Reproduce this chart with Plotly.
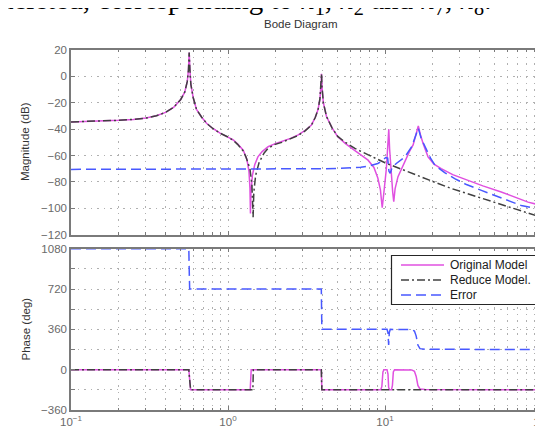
import plotly.graph_objects as go

# ---------------- data ----------------
# Magnitude, original model
orig_mag_freq = [0.1, 0.15, 0.2, 0.25, 0.3, 0.35, 0.4, 0.45, 0.5, 0.53, 0.55, 0.56, 0.566,
                 0.572, 0.58, 0.6, 0.63, 0.68, 0.73, 0.8, 0.89, 1.0, 1.08, 1.15, 1.25, 1.32,
                 1.36, 1.38, 1.39, 1.40, 1.43, 1.48, 1.55, 1.65, 1.8, 2.0, 2.2, 2.5, 2.8, 3.1,
                 3.4, 3.6, 3.75, 3.85, 3.92, 3.94, 3.97, 4.05, 4.24, 4.6, 5.0, 5.6, 6.4, 7.2,
                 7.8, 8.5, 9.0, 9.35, 9.6, 9.9, 10.2, 10.45, 10.57, 10.7, 10.95, 11.2, 11.37,
                 11.6, 12.1, 13.4, 14.3, 15.1, 15.85, 16.3, 16.8, 17.5, 18.8, 20.5, 22.8, 27,
                 33.8, 42, 55, 70, 81.5, 100]
orig_mag_db = [-34.5, -34.0, -33.3, -32.6, -31.6, -29.8, -27.3, -23.5, -17.5, -12, -4, 5, 18,
               5, -6, -16, -25, -31, -35.5, -39.5, -43, -46, -48.2, -51, -56, -63,
               -72, -85, -104, -88, -75, -67, -61, -57, -53.3, -51, -49.5, -47, -44.4, -41,
               -36.8, -31, -25, -17, -5, 2, -8, -20, -30.4, -39, -45.7, -51, -56, -60.5,
               -63.5, -69, -77, -86, -99.6, -85, -70, -50, -40, -55, -76, -88, -95,
               -85, -76, -63.5, -57, -52, -43.1, -37.6, -44, -51, -61, -66.5, -69.9, -74.5,
               -78.8, -83, -87.6, -92.5, -95.3, -98]

# Magnitude, reduced model
red_mag_freq = [0.1, 0.15, 0.2, 0.25, 0.3, 0.35, 0.4, 0.45, 0.5, 0.53, 0.55, 0.56, 0.566,
                0.572, 0.58, 0.6, 0.63, 0.68, 0.73, 0.8, 0.89, 1.0, 1.08, 1.15, 1.25, 1.3,
                1.38, 1.42, 1.445, 1.46, 1.5, 1.58, 1.7, 1.8, 2.0, 2.2, 2.5, 2.8, 3.1, 3.4,
                3.6, 3.75, 3.85, 3.92, 3.94, 3.97, 4.05, 4.24, 4.6, 5.0, 5.6, 6.43, 7.8, 9.0,
                10.0, 11.5, 14.0, 20, 26.5, 40, 55, 73.8, 100]
red_mag_db = [-34.5, -34.0, -33.3, -32.6, -31.6, -29.8, -27.3, -23.5, -17.5, -12, -4, 5, 18,
              5, -6, -16, -25, -31, -35.5, -39.5, -43, -46, -48.5, -51.5, -56.5, -61,
              -70, -82, -106.7, -88, -75, -65, -58, -54.5, -51.5, -50, -47.5, -44.8, -41.3, -37,
              -31, -25, -17, -5, 2, -8, -20, -30.4, -39, -45.5, -50, -54.6, -59.5, -62.5,
              -65.5, -68.3, -72.5, -79.5, -85, -92, -97, -102, -107]

# Magnitude, error
err_mag_freq = [0.1, 1, 2, 3, 4, 5, 6, 7, 8, 9, 9.6, 10.1, 10.4, 10.6, 10.8, 11.1, 11.8,
                13.4, 14.8, 15.8, 16.3, 17, 18, 19.5, 20.8, 24, 27.8, 33, 41.1, 55, 73.8, 100]
err_mag_db = [-70.5, -70.5, -70.3, -70.2, -70, -69.8, -69.5, -68.8, -67.8, -66, -64, -61.5,
              -62, -72, -73.5, -69, -66, -61, -53.3, -44, -39.3, -47, -53.3, -62, -67.3,
              -73, -77.5, -82, -86.4, -92, -97.9, -101]

# Phase, original model
orig_ph_freq = [0.1, 0.563, 0.57, 0.578, 1.385, 1.395, 1.405, 3.93, 3.945, 3.96, 9.4, 9.55,
                9.7, 9.85, 10.3, 10.45, 10.55, 10.7, 11.0, 11.15, 11.3, 11.5, 14.8, 15.4,
                15.8, 16.2, 16.7, 18, 100]
orig_ph_deg = [0, 0, -90, -180, -180, -90, 0, 0, -90, -180, -180, -150,
               -20, 0, 0, -40, -160, -180, -180, -140, -20, 0, -2, -15,
               -60, -140, -172, -178, -180]

# Phase, reduced model
red_ph_freq = [0.1, 0.563, 0.57, 0.578, 1.44, 1.445, 1.45, 3.93, 3.945, 3.96, 100]
red_ph_deg = [0, 0, -90, -180, -180, -90, 0, 0, -90, -180, -180]

# Phase, error
err_ph_freq = [0.1, 0.563, 0.566, 0.57, 3.93, 3.945, 3.96, 10.3, 10.45, 10.55, 10.65, 10.8,
               14.8, 15.4, 15.8, 16.2, 16.7, 18, 100]
err_ph_deg = [1080, 1080, 900, 720, 720, 540, 360, 360, 330, 220, 330, 360,
              358, 345, 300, 220, 188, 182, 180]

series_names = ["Original Model", "Reduce Model.", "Error"]
mag_ticks = [-120, -100, -80, -60, -40, -20, 0, 20]
phase_grid = [-360, -180, 0, 180, 360, 540, 720, 900, 1080]
phase_labels = ["\u2212360", "", "0", "", "360", "", "720", "", "1080"]
freq_ticks = [0.1, 1, 10, 100]
freq_labels = ["10<sup>\u22121</sup>", "10<sup>0</sup>", "10<sup>1</sup>", "10<sup>2</sup>"]
freq_minor = [0.2, 0.3, 0.4, 0.5, 0.6, 0.7, 0.8, 0.9,
              2, 3, 4, 5, 6, 7, 8, 9,
              20, 30, 40, 50, 60, 70, 80, 90]

# ---------------- styling ----------------
C_ORIG = "#e050e0"
C_RED = "#404040"
C_ERR = "#4858ff"
FRAME = "#7a7a7a"
GRID = "#b0b0b0"
FONT = "Liberation Sans, Arial"
TICKFONT = dict(family=FONT, size=11.5, color="#6a6a6a")

# plot area in pixels (for layout placement only)
L, R, T, B, W, H = 63, 9, 42, 39, 543, 441
PW, PH = W - L - R, H - T - B


def px(xp):
    return (xp - L) / PW


def py(yp):
    return (H - B - yp) / PH


fig = go.Figure()
styles = [
    dict(color=C_ORIG, width=1.5, dash="solid"),
    dict(color=C_RED, width=1.5, dash="8px,3px,2px,3px"),
    dict(color=C_ERR, width=1.5, dash="10px,5px"),
]
mags = [(orig_mag_freq, orig_mag_db), (red_mag_freq, red_mag_db), (err_mag_freq, err_mag_db)]
phs = [(orig_ph_freq, orig_ph_deg), (red_ph_freq, red_ph_deg), (err_ph_freq, err_ph_deg)]
for i in range(3):
    fig.add_trace(go.Scatter(x=mags[i][0], y=mags[i][1], mode="lines", line=styles[i],
                             name=series_names[i], showlegend=False,
                             xaxis="x", yaxis="y"))
for i in range(3):
    fig.add_trace(go.Scatter(x=phs[i][0], y=phs[i][1], mode="lines", line=styles[i],
                             name=series_names[i], showlegend=False,
                             xaxis="x2", yaxis="y2"))

grid_dash = "1.5px,5px"
x_range = [-1, 2]
common_x = dict(type="log", range=x_range, showline=True, linecolor=FRAME, linewidth=1.5,
                mirror="allticks", ticks="inside", ticklen=4, tickcolor=FRAME,
                tickvals=freq_ticks, ticktext=freq_labels, showgrid=True, gridcolor=GRID,
                griddash=grid_dash, gridwidth=1, zeroline=False, automargin=False,
                ticklabeloverflow="allow",
                minor=dict(tickvals=freq_minor, ticks="inside", ticklen=2.5, tickcolor=FRAME,
                           showgrid=True, gridcolor=GRID, griddash=grid_dash, gridwidth=1))
common_y = dict(showline=True, linecolor=FRAME, linewidth=1.5, mirror="allticks",
                ticks="inside", ticklen=4, tickcolor=FRAME, showgrid=True, gridcolor=GRID,
                griddash=grid_dash, gridwidth=1, zeroline=False, tickfont=TICKFONT,
                automargin=False)

# legend drawn as a framed box with line samples
leg_x0, leg_x1, leg_y0, leg_y1 = 383.5, 530, 247.5, 296.5
leg_rows = [257, 272, 287]
shapes = [dict(type="rect", xref="paper", yref="paper", x0=px(leg_x0), x1=px(leg_x1),
               y0=py(leg_y1), y1=py(leg_y0), line=dict(color="#262626", width=1.2),
               fillcolor="white", layer="above")]
annotations = []
for i in range(3):
    shapes.append(dict(type="line", xref="paper", yref="paper", x0=px(393), x1=px(436),
                       y0=py(leg_rows[i]), y1=py(leg_rows[i]), line=styles[i], layer="above"))
    annotations.append(dict(text=series_names[i], xref="paper", yref="paper", x=px(439.5),
                            y=py(leg_rows[i]), xanchor="left", yanchor="middle",
                            showarrow=False,
                            font=dict(family=FONT, size=12, color="#202020")))

annotations += [
    dict(text="Bode Diagram", xref="paper", yref="paper", x=px(292.5), y=py(15.5),
         xanchor="center", yanchor="middle", showarrow=False,
         font=dict(family=FONT, size=11.5, color="#333333")),
    dict(text="Magnitude (dB)", xref="paper", yref="paper", x=px(17), y=py(134),
         xanchor="center", yanchor="middle", textangle=-90, showarrow=False,
         font=dict(family=FONT, size=11.5, color="#333333")),
    dict(text="Phase (deg)", xref="paper", yref="paper", x=px(17), y=py(321.5),
         xanchor="center", yanchor="middle", textangle=-90, showarrow=False,
         font=dict(family=FONT, size=11.5, color="#333333")),
    dict(text="Frequency\u00a0 (rad/sec)", xref="paper", yref="paper", x=px(292.5),
         y=py(437.5), xanchor="center", yanchor="middle", showarrow=False,
         font=dict(family=FONT, size=11.5, color="#333333")),
    dict(text="deleted, corresponding to <i>n</i><sub>1</sub>, <i>n</i><sub>2</sub> and "
              "<i>n</i><sub>7</sub>, <i>n</i><sub>8</sub>.",
         xref="paper", yref="paper", x=px(485), y=py(12.5), xanchor="right",
         yanchor="bottom", showarrow=False,
         font=dict(family="Liberation Serif, Times New Roman", size=29, color="black")),
]

fig.update_layout(
    width=W, height=H,
    margin=dict(l=L, r=R, t=T, b=B),
    paper_bgcolor="white", plot_bgcolor="white",
    xaxis=dict(common_x, anchor="y", domain=[0, 1], showticklabels=False),
    yaxis=dict(common_y, anchor="x", domain=[py(226.7), 1.0], range=[-120, 20],
               tickvals=mag_ticks),
    xaxis2=dict(common_x, anchor="y2", domain=[0, 1], showticklabels=True, tickfont=TICKFONT),
    yaxis2=dict(common_y, anchor="x2", domain=[0, py(240.7)], range=[-360, 1080],
                tickvals=phase_grid, ticktext=phase_labels),
    showlegend=False,
    shapes=shapes,
    annotations=annotations,
)

fig.write_html("out.html")
